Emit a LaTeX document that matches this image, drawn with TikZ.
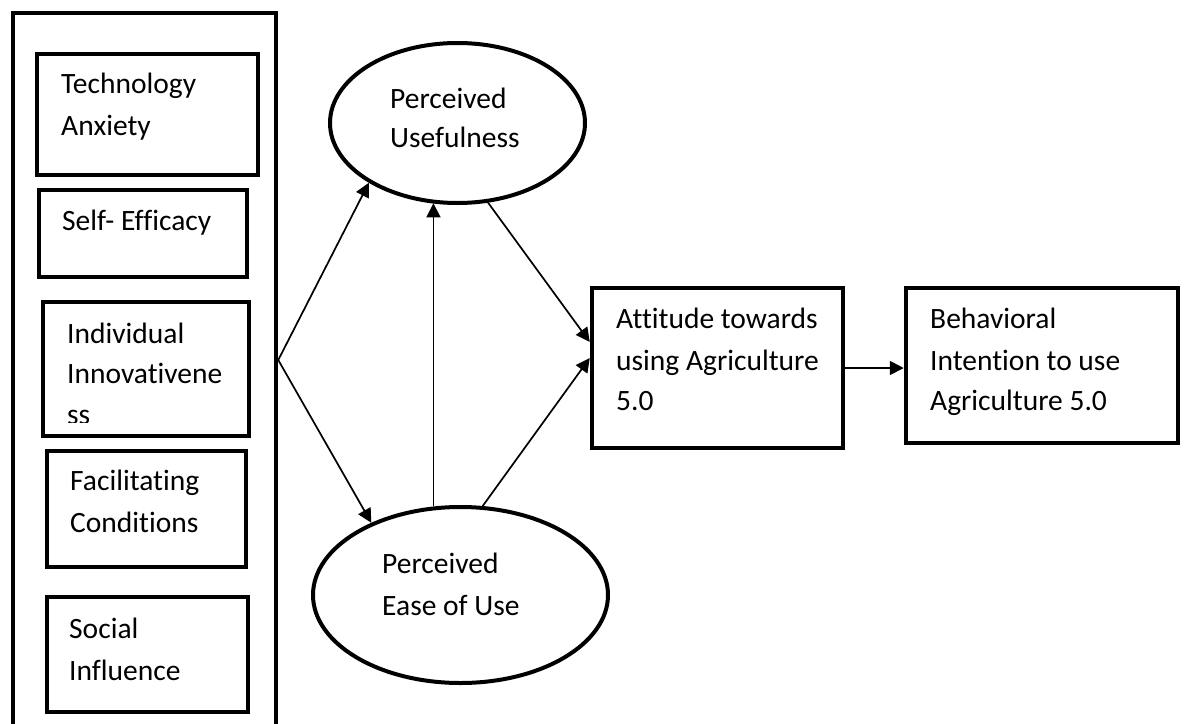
\documentclass[tikz,border=0pt]{standalone}
\usepackage{fontspec}
\setmainfont{Carlito}[Ligatures=NoCommon]
\usetikzlibrary{arrows.meta,shapes.geometric}
\tikzset{
  box/.style={draw, line width=4.5pt, rectangle, inner sep=0pt},
  oval/.style={draw, line width=4pt, ellipse, inner sep=0pt},
  lbl/.style={anchor=base west, inner sep=0pt, font=\fontsize{29.5}{42}\selectfont},
  arr/.style={line width=1.7pt, -{Triangle[length=14pt,width=14pt]}},
}
\begin{document}
\begin{tikzpicture}[x=1pt,y=-1pt]
\fill[white] (0,0) rectangle (1186,723);
\useasboundingbox (0,0) rectangle (1186,723);
\clip (0,0) rectangle (1186,723);

% outer frame
\node[box, minimum width=263pt, minimum height=747pt] (frame) at (144.5,386.5) {};

% left boxes
\node[box, minimum width=221pt, minimum height=121pt] (ta) at (147.5,114.5) {};
\node[box, minimum width=208pt, minimum height=87pt]  (se) at (143,233.5) {};
\node[box, minimum width=206pt, minimum height=134pt] (ii) at (146,369) {};
\node[box, minimum width=199pt, minimum height=116pt] (fc) at (146.5,509) {};
\node[box, minimum width=201pt, minimum height=115pt] (si) at (147.5,654.5) {};

\node[lbl] (ta1) at (61,93) {Technology};
\node[lbl] (ta2) at (61,135) {Anxiety};
\node[lbl] (se1) at (62,230) {Self- Efficacy};
\node[lbl] (ii1) at (67,343) {Individual};
\node[lbl] (ii2) at (67,383) {Innovativene};
\begin{scope}
  \clip (43,300) rectangle (249,422);
  \node[lbl] (ii3) at (67,424) {ss};
\end{scope}
\node[lbl] (fc1) at (70,490) {Facilitating};
\node[lbl] (fc2) at (70,532) {Conditions};
\node[lbl] (si1) at (69,638) {Social};
\node[lbl] (si2) at (69,680) {Influence};

% ellipses
\node[oval, minimum width=255pt, minimum height=160pt] (pu) at (457.5,123) {};
\node[oval, minimum width=295pt, minimum height=176pt] (peu) at (460.5,595) {};
\node[lbl] (pu1) at (390,108) {Perceived};
\node[lbl] (pu2) at (390,147) {Usefulness};
\node[lbl] (peu1) at (382,573) {Perceived};
\node[lbl] (peu2) at (382,615) {Ease of Use};

% right boxes
\node[box, minimum width=251pt, minimum height=160pt] (att) at (717.5,368) {};
\node[box, minimum width=272pt, minimum height=155pt] (beh) at (1042,365.5) {};
\node[lbl] (att1) at (616,328) {Attitude towards};
\node[lbl] (att2) at (616,370) {using Agriculture};
\node[lbl] (att3) at (616,410) {5.0};
\node[lbl] (beh1) at (930,328) {Behavioral};
\node[lbl] (beh2) at (930,370) {Intention to use};
\node[lbl] (beh3) at (930,410) {Agriculture 5.0};

% connectors
\draw[arr] ([yshift=26.5pt]frame.east) -- (pu.214);
\draw[arr] ([yshift=26.5pt]frame.east) -- (peu.141);
\draw[arr] (peu.107.6) -- (peu.107.6 |- pu.252.7);
\draw[arr] (pu.291) -- ([yshift=26pt]att.west);
\draw[arr] (peu.76) -- ([yshift=10pt]att.west);
\draw[arr] (att.east) -- (att.east -| beh.west);
\end{tikzpicture}
\end{document}
